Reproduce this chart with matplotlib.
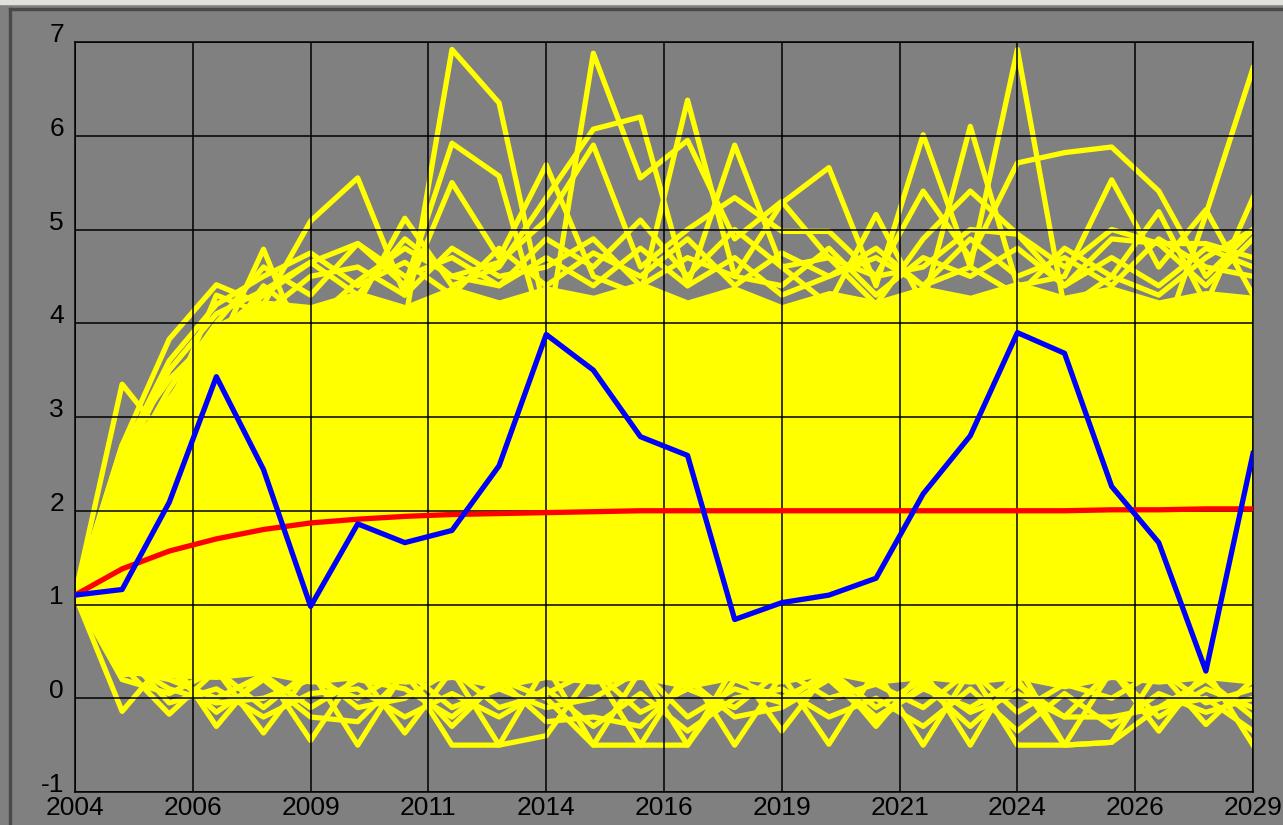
import matplotlib
matplotlib.use("Agg")
import matplotlib.pyplot as plt
from matplotlib.patches import Rectangle

plt.rcParams['font.family'] = ['Liberation Sans', 'DejaVu Sans']

years = list(range(2004, 2030))

# mean path (blue) and expected value (red)
blue = [1.10, 1.16, 2.09, 3.43, 2.44, 0.98, 1.86, 1.66, 1.79, 2.48, 3.88, 3.50, 2.79,
        2.59, 0.84, 1.02, 1.10, 1.28, 2.18, 2.80, 3.90, 3.68, 2.26, 1.66, 0.29, 2.61]
red = [1.10, 1.38, 1.57, 1.70, 1.80, 1.87, 1.91, 1.94, 1.96, 1.97, 1.98, 1.99, 2.00,
       2.00, 2.00, 2.00, 2.00, 2.00, 2.00, 2.00, 2.00, 2.00, 2.01, 2.01, 2.02, 2.02]

# dense band of simulated paths
core_high = [1.1, 2.65, 3.25, 4.0, 4.25, 4.2, 4.35, 4.2, 4.4, 4.25, 4.4, 4.3, 4.45,
             4.25, 4.4, 4.2, 4.35, 4.25, 4.4, 4.3, 4.45, 4.3, 4.4, 4.25, 4.35, 4.3]
core_low = [1.1, 0.28, 0.22, 0.2, 0.25, 0.15, 0.2, 0.15, 0.2, 0.1, 0.2, 0.15, 0.2,
            0.1, 0.2, 0.15, 0.25, 0.15, 0.2, 0.15, 0.2, 0.1, 0.2, 0.15, 0.2, 0.15]

# individual paths visible above the band
up1 = [1.1, 2.3, 3.0, 3.6, 3.8, 3.7, 3.9, 4.0, 6.92, 6.35, 4.05, 3.7, 3.9,
       3.6, 3.8, 3.7, 3.9, 3.6, 3.8, 3.7, 3.9, 3.6, 3.8, 3.7, 5.16, 6.72]
up2 = [1.1, 2.7, 3.4, 3.9, 4.3, 4.65, 4.85, 4.4, 5.92, 5.57, 3.8, 6.88, 5.55,
       5.95, 4.9, 5.3, 4.7, 4.2, 4.9, 5.41, 4.95, 4.4, 4.9, 4.85, 4.85, 4.7]
up3 = [1.1, 3.35, 2.72, 3.7, 4.79, 3.56, 4.2, 5.12, 4.4, 4.6, 5.34, 6.07, 6.2,
       4.4, 5.9, 4.6, 4.2, 5.16, 4.2, 6.1, 4.4, 4.5, 5.53, 4.6, 5.21, 4.3]
up4 = [1.1, 2.7, 3.83, 4.41, 4.2, 5.09, 5.55, 4.3, 5.5, 4.7, 5.69, 4.5, 4.3,
       6.38, 4.5, 5.28, 5.66, 4.4, 6.01, 4.6, 6.92, 4.15, 4.5, 5.19, 4.2, 5.34]
up5 = [1.1, 2.5, 3.5, 4.1, 4.35, 4.65, 4.3, 4.9, 4.5, 4.65, 5.1, 5.9, 4.6,
       5.0, 5.34, 4.98, 4.98, 4.5, 5.41, 4.7, 5.71, 5.82, 5.88, 5.41, 4.5, 5.0]
up6 = [1.1, 2.4, 3.3, 4.0, 4.6, 4.3, 4.85, 4.5, 4.7, 4.4, 4.9, 4.6, 5.1,
       4.5, 5.0, 4.6, 4.7, 4.5, 4.6, 5.0, 4.95, 4.6, 5.0, 4.85, 4.4, 4.9]
up7 = [1.1, 2.6, 3.6, 4.2, 4.5, 4.75, 4.4, 4.65, 4.3, 4.8, 4.4, 4.75, 4.5,
       4.9, 4.4, 4.75, 4.5, 4.8, 4.4, 4.9, 4.5, 4.7, 4.4, 4.9, 4.6, 4.5]
up8 = [1.1, 2.5, 3.1, 4.3, 4.1, 4.5, 4.6, 4.3, 4.8, 4.5, 4.6, 4.9, 4.4,
       4.7, 4.5, 4.4, 4.8, 4.3, 4.7, 4.5, 4.8, 4.4, 4.7, 4.4, 4.8, 4.6]
up9 = [1.1, 2.0, 2.9, 3.7, 4.4, 4.0, 4.45, 4.8, 4.5, 4.4, 4.7, 4.4, 4.8,
       4.4, 4.7, 4.3, 4.5, 4.7, 4.4, 4.6, 4.3, 4.8, 4.5, 4.3, 4.7, 5.0]

# individual paths visible below the band
lo1 = [1.1, -0.14, 0.45, -0.3, 0.3, -0.45, 0.3, -0.37, 0.3, -0.5, 0.35, -0.5, 0.3,
       -0.5, 0.35, -0.35, 0.3, -0.3, 0.3, -0.5, 0.35, -0.5, 0.3, -0.35, 0.3, -0.5]
lo2 = [1.1, 0.35, -0.17, 0.3, -0.37, 0.3, -0.5, 0.3, -0.5, -0.5, -0.4, 0.3, -0.5,
       0.3, -0.5, 0.25, -0.49, 0.3, -0.5, 0.3, -0.5, -0.5, -0.47, 0.3, -0.28, 0.2]
lo3 = [1.1, 0.25, 0.3, -0.15, 0.2, -0.2, -0.25, 0.25, -0.3, 0.2, -0.25, -0.2, -0.3,
       0.2, -0.2, -0.1, 0.2, -0.25, 0.15, -0.3, 0.15, -0.2, -0.2, -0.1, 0.0, -0.35]
lo4 = [1.1, 0.5, -0.05, 0.1, -0.2, 0.05, 0.1, -0.2, 0.05, -0.2, 0.1, -0.3, 0.05,
       -0.35, 0.0, 0.1, -0.2, 0.0, -0.3, 0.1, -0.35, 0.05, -0.3, 0.05, -0.15, 0.0]
lo5 = [1.1, 0.3, 0.2, 0.0, 0.25, -0.1, 0.2, 0.1, -0.2, 0.2, 0.0, -0.5, -0.5,
       -0.5, 0.2, 0.0, 0.25, -0.2, 0.1, -0.1, 0.2, -0.5, -0.47, -0.1, 0.2, -0.2]
lo6 = [1.1, 0.2, 0.05, 0.3, -0.1, 0.3, -0.1, 0.0, 0.3, -0.1, 0.05, 0.3, -0.15,
       0.1, -0.1, 0.3, 0.0, 0.15, -0.1, 0.3, -0.15, 0.15, 0.0, 0.3, -0.05, 0.1]
lo7 = [1.1, 0.4, 0.1, -0.05, 0.0, 0.2, 0.0, 0.3, -0.1, 0.1, -0.1, 0.0, 0.3,
       -0.2, 0.1, -0.05, 0.3, -0.1, 0.2, -0.15, 0.05, -0.2, 0.3, -0.2, 0.1, -0.1]

xtick_pos = [2004, 2006.5, 2009, 2011.5, 2014, 2016.5, 2019, 2021.5, 2024, 2026.5, 2029]
xtick_lbl = ['2004', '2006', '2009', '2011', '2014', '2016', '2019', '2021', '2024', '2026', '2029']
ytick_pos = [-1, 0, 1, 2, 3, 4, 5, 6, 7]

fig = plt.figure(figsize=(12.83, 8.25), dpi=100, facecolor='#808080')
ax = fig.add_axes([75/1283, 1-792/825, (1253-75)/1283, (792-42)/825])
ax.set_facecolor('#808080')

ax.fill_between(years, core_low, core_high, color='#ffff00', lw=0, zorder=1)
for path in [up1, up2, up3, up4, up5, up6, up7, up8, up9,
             lo1, lo2, lo3, lo4, lo5, lo6, lo7]:
    ax.plot(years, path, color='#ffff00', lw=3.8, zorder=1.2)

ax.plot(years, red, color='#ff0000', lw=3.8, zorder=3)
ax.plot(years, blue, color='#0000ff', lw=3.8, zorder=3.1)

ax.set_xlim(2004, 2029)
ax.set_ylim(-1, 7)
ax.set_xticks(xtick_pos)
ax.set_xticklabels(xtick_lbl)
ax.set_yticks(ytick_pos)
ax.set_yticklabels([str(v) for v in ytick_pos])
for t in ax.get_yticklabels():
    t.set_verticalalignment('baseline')
ax.tick_params(length=0, labelsize=19, colors='black')
ax.tick_params(axis='x', pad=3)
ax.tick_params(axis='y', pad=8)
ax.grid(True, color='black', lw=1.1)
ax.set_axisbelow(False)
for s in ax.spines.values():
    s.set_color('black')
    s.set_linewidth(1.1)

# window frame edges
fig.patches.append(Rectangle((0, 1-4/825), 1, 4/825, transform=fig.transFigure,
                             color='#e2e0da', zorder=5))
fig.patches.append(Rectangle((9/1283, 1-10/825), 1, 2/825, transform=fig.transFigure,
                             color='#4a4a4a', zorder=5))
fig.patches.append(Rectangle((9/1283, 0), 2/1283, 1-8/825, transform=fig.transFigure,
                             color='#4a4a4a', zorder=5))

fig.savefig('out.png', dpi=100, facecolor=fig.get_facecolor())
